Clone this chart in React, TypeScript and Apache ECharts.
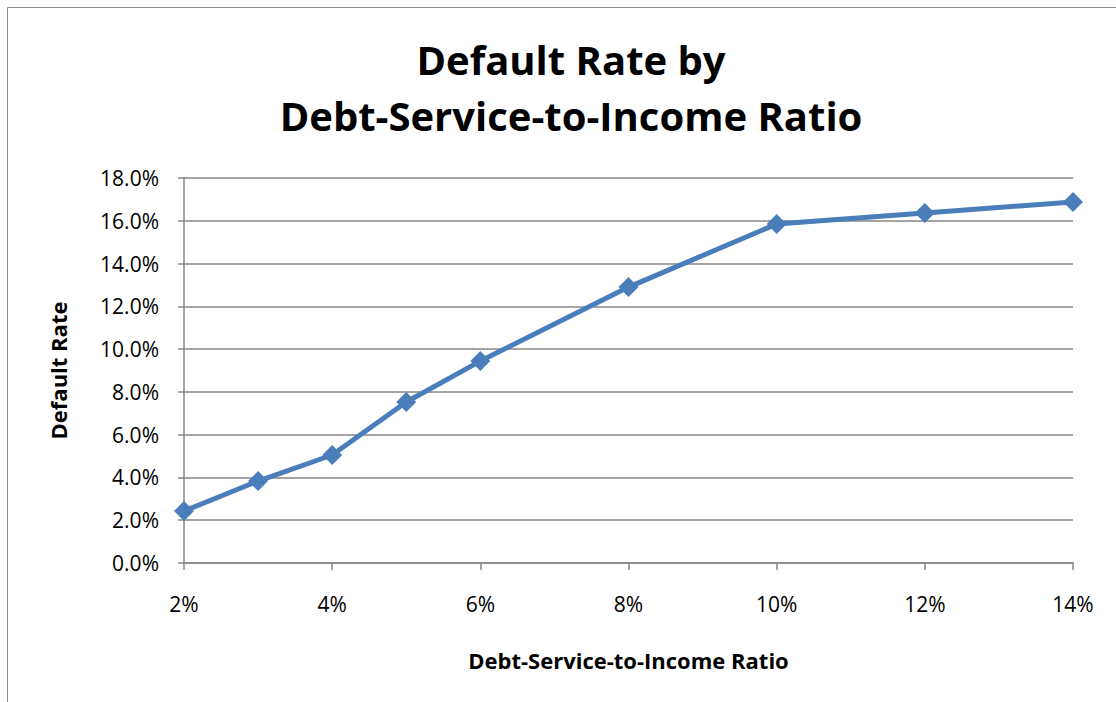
import React, { useEffect, useRef } from "react";
import * as echarts from "echarts";

const ratios = [2, 3, 4, 5, 6, 8, 10, 12, 14];
const defaultRates = [2.43, 3.83, 5.05, 7.53, 9.44, 12.9, 15.85, 16.36, 16.88];
const titleText = "Default Rate by\nDebt-Service-to-Income Ratio";
const xName = "Debt-Service-to-Income Ratio";
const yName = "Default Rate";

const FONT = "'Open Sans', sans-serif";

export default function App() {
  const ref = useRef<HTMLDivElement>(null);
  useEffect(() => {
    if (!ref.current) return;
    const chart = echarts.init(ref.current, null, { renderer: "svg" });
    chart.setOption({
      animation: false,
      backgroundColor: "#ffffff",
      graphic: [
        {
          type: "rect",
          shape: { x: 7.5, y: 7.5, width: 1120, height: 720 },
          style: { fill: "none", stroke: "#8c8c8c", lineWidth: 1 },
          silent: true,
        },
      ],
      title: {
        text: titleText,
        left: 566,
        textAlign: "center",
        top: 26,
        textStyle: {
          fontFamily: FONT,
          fontWeight: "bold",
          fontSize: 40,
          lineHeight: 56,
          color: "#000",
        },
      },
      grid: { left: 184, right: 43, top: 178, bottom: 139 },
      xAxis: {
        type: "value",
        min: 2,
        max: 14,
        interval: 2,
        name: xName,
        nameLocation: "middle",
        nameGap: 86,
        nameTextStyle: { fontFamily: FONT, fontWeight: "bold", fontSize: 22, color: "#000" },
        axisLine: { lineStyle: { color: "#868686", width: 1.5 } },
        axisTick: { show: true, length: 7, inside: false, lineStyle: { color: "#868686", width: 1.5 } },
        axisLabel: {
          margin: 30,
          fontFamily: FONT,
          fontSize: 21,
          color: "#000",
          formatter: (v: number) => v + "%",
        },
        splitLine: { show: false },
      },
      yAxis: {
        type: "value",
        min: 0,
        max: 18,
        interval: 2,
        name: yName,
        nameLocation: "middle",
        nameGap: 115,
        nameTextStyle: { fontFamily: FONT, fontWeight: "bold", fontSize: 22, color: "#000" },
        axisLine: { show: true, lineStyle: { color: "#868686", width: 1.5 } },
        axisTick: { show: true, length: 6, lineStyle: { color: "#868686", width: 1.5 } },
        axisLabel: {
          margin: 25,
          fontFamily: FONT,
          fontSize: 21,
          color: "#000",
          formatter: (v: number) => v.toFixed(1) + "%",
        },
        splitLine: { show: true, lineStyle: { color: "#868686", width: 1.5 } },
      },
      series: [
        {
          type: "line",
          data: ratios.map((r, i) => [r, defaultRates[i]]),
          symbol: "diamond",
          symbolSize: 20,
          lineStyle: { color: "#4A7EBB", width: 5 },
          itemStyle: { color: "#4A7EBB" },
        },
      ],
    });
    return () => chart.dispose();
  }, []);
  return (
    <div
      ref={ref}
      style={{ position: "fixed", left: 0, top: 0, width: 1116, height: 702 }}
    />
  );
}
